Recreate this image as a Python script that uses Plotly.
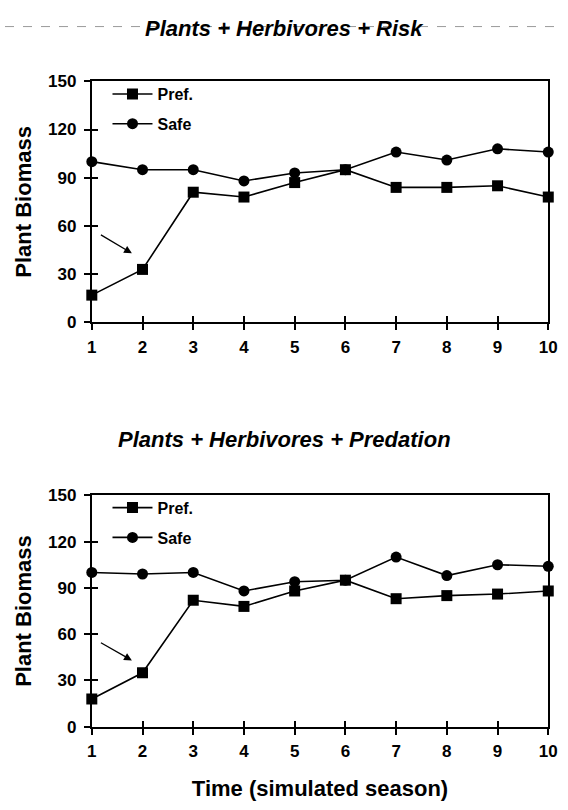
import plotly.graph_objects as go

# Simulated seasons
seasons = [1, 2, 3, 4, 5, 6, 7, 8, 9, 10]

# Plant biomass, herbivores with predation risk only
risk_pref = [17, 33, 81, 78, 87, 95, 84, 84, 85, 78]
risk_safe = [100, 95, 95, 88, 93, 95, 106, 101, 108, 106]

# Plant biomass, herbivores with actual predation
pred_pref = [18, 35, 82, 78, 88, 95, 83, 85, 86, 88]
pred_safe = [100, 99, 100, 88, 94, 95, 110, 98, 105, 104]

y_ticks = [0, 30, 60, 90, 120, 150]

FONT = "Arial, Liberation Sans, sans-serif"
X_DOM = [89 / 568, 557 / 568]
TOP_DOM = [1 - 321 / 810, 1 - 74 / 810]
BOT_DOM = [1 - 735 / 810, 1 - 498 / 810]

fig = go.Figure()


def add_series(xa, ya, pref, safe, legend):
    fig.add_trace(go.Scatter(
        x=seasons, y=pref, name="Pref.", mode="lines+markers",
        xaxis=xa, yaxis=ya, legend=legend, legendgroup=legend + "p",
        line=dict(color="black", width=1.6),
        marker=dict(symbol="square", size=11, color="black"),
        cliponaxis=False,
    ))
    fig.add_trace(go.Scatter(
        x=seasons, y=safe, name="Safe", mode="lines+markers",
        xaxis=xa, yaxis=ya, legend=legend, legendgroup=legend + "s",
        line=dict(color="black", width=1.6),
        marker=dict(symbol="circle", size=11, color="black"),
        cliponaxis=False,
    ))


add_series("x", "y", risk_pref, risk_safe, "legend")
add_series("x2", "y2", pred_pref, pred_safe, "legend2")

tickfont = dict(family=FONT, size=17, color="black", weight="bold")
titlefont = dict(family=FONT, size=22, color="black", weight="bold")

x_common = dict(
    range=[1, 10], tickvals=seasons, showgrid=False, zeroline=False,
    showline=True, linecolor="black", linewidth=2, mirror=True,
    ticks="outside", ticklen=6, tickwidth=2, tickcolor="black",
    tickfont=tickfont, ticklabelstandoff=2, domain=X_DOM,
)
y_common = dict(
    range=[0, 150], tickvals=y_ticks, showgrid=False, zeroline=False,
    showline=True, linecolor="black", linewidth=2, mirror=True,
    ticks="outside", ticklen=6, tickwidth=2, tickcolor="black",
    tickfont=tickfont, ticklabelstandoff=4,
    title=dict(text="Plant Biomass", font=titlefont, standoff=10),
)
# Inner half of the crossing tick marks
x_inner = dict(range=[1, 10], tickvals=seasons, showgrid=False, zeroline=False,
               showline=False, showticklabels=False, ticks="inside", ticklen=6,
               tickwidth=2, tickcolor="black", domain=X_DOM)
y_inner = dict(range=[0, 150], tickvals=y_ticks, showgrid=False, zeroline=False,
               showline=False, showticklabels=False, ticks="inside", ticklen=6,
               tickwidth=2, tickcolor="black")

fig.update_layout(
    xaxis=dict(**x_common, anchor="y"),
    yaxis=dict(**y_common, domain=TOP_DOM, anchor="x"),
    xaxis2=dict(**x_common, anchor="y2",
                title=dict(text="Time (simulated season)", font=titlefont, standoff=20)),
    yaxis2=dict(**y_common, domain=BOT_DOM, anchor="x2"),
    xaxis3=dict(**x_inner, overlaying="x", anchor="y"),
    yaxis3=dict(**y_inner, overlaying="y", anchor="x"),
    xaxis4=dict(**x_inner, overlaying="x2", anchor="y2"),
    yaxis4=dict(**y_inner, overlaying="y2", anchor="x2"),
)

# Dummy traces so the overlay axes render their ticks
for xa, ya in (("x3", "y3"), ("x4", "y4")):
    fig.add_trace(go.Scatter(x=[None], y=[None], xaxis=xa, yaxis=ya,
                             showlegend=False, hoverinfo="skip"))

legend_style = dict(
    font=dict(family=FONT, size=16, color="black", weight="bold"),
    bgcolor="rgba(0,0,0,0)", tracegroupgap=6, itemwidth=40,
    xanchor="left", yanchor="top",
)
fig.update_layout(
    legend=dict(**legend_style, x=0.185, y=0.914),
    legend2=dict(**legend_style, x=0.185, y=0.391),
)

# Panel titles
for text, y in (("Plants + Herbivores + Risk", 1 - 5 / 810),
                ("Plants + Herbivores + Predation", 1 - 426 / 810)):
    fig.add_annotation(text=f"<i>{text}</i>", xref="paper", yref="paper",
                       x=0.505, y=y, showarrow=False, yanchor="top",
                       font=dict(family=FONT, size=22, color="black", weight="bold"))

# Arrows pointing at the second-season preferred-habitat value
for xr, yr in (("x", "y"), ("x2", "y2")):
    fig.add_annotation(x=1.79, y=43, ax=1.15, ay=55, xref=xr, yref=yr,
                       axref=xr, ayref=yr, text="", showarrow=True,
                       arrowhead=2, arrowsize=1.2, arrowwidth=1.3, arrowcolor="black")

# Faint dashed rule across the top of the page
fig.add_shape(type="line", xref="paper", yref="paper", x0=0, x1=1,
              y0=1 - 18 / 810, y1=1 - 18 / 810,
              line=dict(color="#9a9a9a", width=1, dash="dash"), layer="below")

fig.update_layout(
    width=568, height=810,
    margin=dict(l=0, r=0, t=0, b=0),
    paper_bgcolor="white", plot_bgcolor="white",
    showlegend=True,
)

fig.write_html("out.html")
